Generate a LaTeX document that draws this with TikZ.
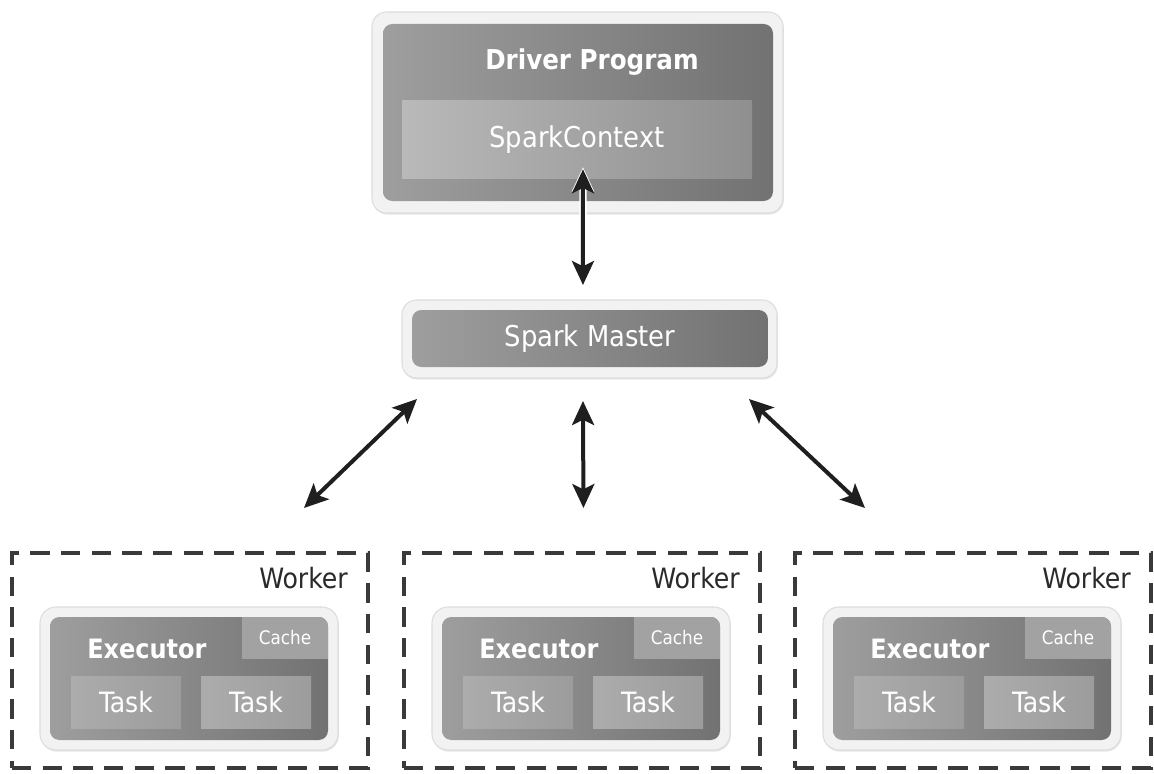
\documentclass[tikz,border=0pt]{standalone}
\usepackage{fontspec}
\setmainfont{DejaVu Sans Condensed}
\usetikzlibrary{shadows,arrows.meta}

\definecolor{framefill}{HTML}{F2F2F2}
\definecolor{frameline}{HTML}{DDDDDD}
\definecolor{darkleft}{HTML}{9E9E9E}
\definecolor{darkright}{HTML}{727272}
\definecolor{ctxleft}{HTML}{B9B9B9}
\definecolor{ctxright}{HTML}{8F8F8F}
\definecolor{taskleft}{HTML}{ACACAC}
\definecolor{taskright}{HTML}{9C9C9C}
\definecolor{cachefill}{HTML}{A2A2A2}
\definecolor{dashgray}{HTML}{3A3A3A}
\definecolor{labelgray}{HTML}{2A2A2A}
\definecolor{arrowblack}{HTML}{1F1F1F}

\begin{document}
\begin{tikzpicture}[x=0.75pt, y=-0.75pt]
        \tikzstyle{frame} = [rectangle, rounded corners=11pt, inner sep=0pt, outer sep=0pt, fill=framefill, draw=frameline, line width=0.8pt, drop shadow={opacity=0.2, shadow xshift=0.6pt, shadow yshift=-1.2pt}]
        \tikzstyle{darkbox} = [rectangle, rounded corners=7pt, inner sep=0pt, outer sep=0pt, left color=darkleft, right color=darkright, text=white, font=\fontsize{21.5}{26}\selectfont]
        \tikzstyle{lightbox} = [rectangle, inner sep=0pt, left color=ctxleft, right color=ctxright, text=white, font=\fontsize{21.5}{26}\selectfont]
        \tikzstyle{taskbox} = [rectangle, inner sep=0pt, minimum width=82.5pt, minimum height=39pt, left color=taskleft, right color=taskright, text=white, font=\fontsize{21}{25}\selectfont]
        \tikzstyle{cachebox} = [rectangle, inner sep=0pt, minimum width=64.5pt, minimum height=31.5pt, fill=cachefill, text=white, font=\fontsize{14}{17}\selectfont]
        \tikzstyle{workerbox} = [rectangle, inner sep=0pt, outer sep=0pt, minimum width=267pt, minimum height=161.25pt, draw=dashgray, line width=3.6pt, dash pattern=on 14.5pt off 8.5pt]
        \tikzstyle{title} = [inner sep=0pt, text=white, font=\bfseries\fontsize{20.5}{24}\selectfont]
        \tikzstyle{arrow} = [line width=3pt, draw=arrowblack, {Stealth[length=18pt,width=16.5pt,inset=4pt]}-{Stealth[length=18pt,width=16.5pt,inset=4pt]}]

        \fill [white] (0,0) rectangle (1154,774);
        \useasboundingbox (0,0) rectangle (1154,774);

        \node (drvframe) [frame, minimum width=308.25pt, minimum height=150.75pt] at (577.5,112.5) {};
        \node (drv) [darkbox, minimum width=292.5pt, minimum height=132.75pt] at (578,112.5) {};
        \node (drvtitle) [title, anchor=base] at (592,70) {Driver Program};
        \node (ctx) [lightbox, minimum width=262.5pt, minimum height=57.75pt] at (577,139.5) {SparkContext};

        \node (mframe) [frame, minimum width=281.25pt, minimum height=58.5pt] at (589.5,339) {};
        \node (master) [darkbox, minimum width=267pt, minimum height=42.75pt] at (590,338.5) {Spark Master};

        \foreach \i/\dx in {1/0, 2/392, 3/783} {
            \node (w\i) [workerbox] at (190+\dx,660.5) {};
            \node (wlabel\i) [anchor=base east, inner sep=0pt, text=labelgray, font=\fontsize{21}{25}\selectfont] at (348+\dx,588) {Worker};
            \node (exframe\i) [frame, rounded corners=12pt, minimum width=223.5pt, minimum height=107.25pt] at (189+\dx,678.5) {};
            \node (ex\i) [darkbox, minimum width=208.5pt, minimum height=92.25pt] at (189+\dx,678.5) {};
            \begin{scope}
                \clip [rounded corners=7pt] (ex\i.south west) rectangle (ex\i.north east);
                \node (cache\i) [cachebox] at (285+\dx,638) {Cache};
            \end{scope}
            \node (extitle\i) [title, anchor=base west, font=\bfseries\fontsize{20}{24}\selectfont] at (87+\dx,658) {Executor};
            \node (taska\i) [taskbox] at (126+\dx,702) {Task};
            \node (taskb\i) [taskbox] at (256+\dx,702) {Task};
        }

        \draw [arrow, preaction={draw=white, line width=5.5pt, shorten <=-1.5pt, shorten >=-1.5pt}] ([xshift=4.5pt,yshift=6.75pt]ctx.south) -- ([xshift=-4.9pt,yshift=11.25pt]mframe.north);
        \draw [arrow] ([xshift=11.25pt,yshift=-15.75pt]mframe.south west) -- ([xshift=-48pt,yshift=33.75pt]w1.north east);
        \draw [arrow] ([xshift=-4.9pt,yshift=-17.25pt]mframe.south) -- ([xshift=1.1pt,yshift=33.75pt]w2.north);
        \draw [arrow] ([xshift=-21pt,yshift=-15.75pt]mframe.south east) -- ([xshift=52.5pt,yshift=33.75pt]w3.north west);
    \end{tikzpicture}
\end{document}
